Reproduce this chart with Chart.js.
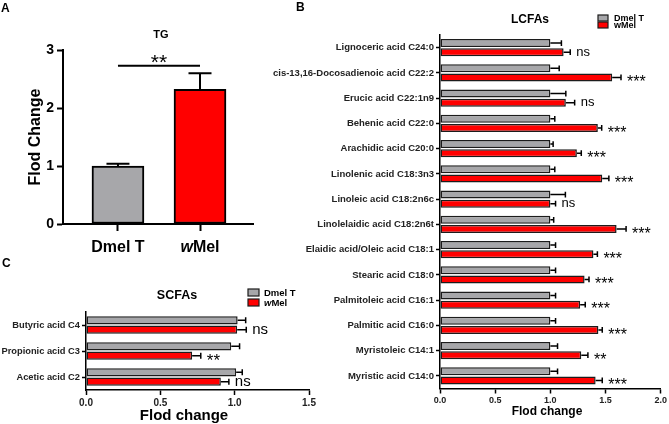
<!DOCTYPE html>
<html lang="es">
<head>
<meta charset="utf-8">
<title>TG / LCFAs / SCFAs</title>
<script src="https://cdn.jsdelivr.net/npm/chart.js@4.4.1/dist/chart.umd.min.js"></script>
<style>
  body { margin: 0; background: #fff; }
  #lienzo { position: relative; width: 669px; height: 424px; overflow: hidden; font-family: "Liberation Sans", Arial, sans-serif; }
  .panel { position: absolute; }
  .letra { position: absolute; font-weight: bold; font-size: 12px; line-height: 12px; color: #000; }
</style>
</head>
<body>
<div id="lienzo">
  <div class="panel" style="left:0;top:0;width:265px;height:262px"><canvas id="graficaTG"></canvas></div>
  <div class="panel" style="left:262px;top:0;width:407px;height:424px"><canvas id="graficaLCFA"></canvas></div>
  <div class="panel" style="left:0;top:275px;width:330px;height:149px"><canvas id="graficaSCFA"></canvas></div>
  <div class="letra" style="left:1px;top:2px">A</div>
  <div class="letra" style="left:296px;top:1px">B</div>
  <div class="letra" style="left:2px;top:257px">C</div>
</div>
<script>
const FUENTE = '"Liberation Sans", Arial, sans-serif';
const GRIS = '#a7a7aa';
const ROJO = '#ff0000';
const TRAZO = '#1c1c1c';

// Panel A: TG
const gruposTG = ['Dmel T', 'wMel'];
const mediaTG = [1.0, 2.32];
const errorTG = [0.04, 0.28];
const ticksTG = [0, 1, 2, 3];
const sigTG = '**';
const alturaSigTG = 2.73;

// Panel B: LCFAs
const acidosLCFA = [
  'Lignoceric acid C24:0',
  'cis-13,16-Docosadienoic acid C22:2',
  'Erucic acid C22:1n9',
  'Behenic acid C22:0',
  'Arachidic acid C20:0',
  'Linolenic acid C18:3n3',
  'Linoleic acid C18:2n6c',
  'Linolelaidic acid C18:2n6t',
  'Elaidic acid/Oleic acid C18:1',
  'Stearic acid C18:0',
  'Palmitoleic acid C16:1',
  'Palmitic acid C16:0',
  'Myristoleic C14:1',
  'Myristic acid C14:0'
];
const dmelLCFA = [1, 1, 1, 1, 1, 1, 1, 1, 1, 1, 1, 1, 1, 1];
const dmelErrLCFA = [0.10, 0.08, 0.14, 0.04, 0.025, 0.04, 0.136, 0.03, 0.047, 0.047, 0.047, 0.047, 0.065, 0.065];
const wmelLCFA = [1.12, 1.56, 1.14, 1.43, 1.24, 1.47, 1.00, 1.60, 1.39, 1.31, 1.27, 1.435, 1.28, 1.41];
const wmelErrLCFA = [0.06, 0.08, 0.08, 0.035, 0.04, 0.06, 0.047, 0.086, 0.036, 0.04, 0.046, 0.035, 0.06, 0.06];
const sigLCFA = ['ns', '***', 'ns', '***', '***', '***', 'ns', '***', '***', '***', '***', '***', '**', '***'];
const ticksLCFA = [0, 0.5, 1, 1.5, 2];

// Panel C: SCFAs
const acidosSCFA = ['Butyric acid C4', 'Propionic acid C3', 'Acetic acid C2'];
const dmelSCFA = [1.02, 0.977, 1.01];
const dmelErrSCFA = [0.054, 0.056, 0.041];
const wmelSCFA = [1.017, 0.714, 0.907];
const wmelErrSCFA = [0.061, 0.058, 0.054];
const sigSCFA = ['ns', '**', 'ns'];
const ticksSCFA = [0, 0.5, 1, 1.5];

Chart.defaults.font.family = FUENTE;
Chart.defaults.color = '#000';

// texto con la "w" de wMel en cursiva
function textoW(ctx, texto, x, y, tam, alinear, cursiva) {
  const negrita = `bold ${tam}px ${FUENTE}`;
  ctx.textAlign = 'left';
  if (cursiva && texto.startsWith('w')) {
    ctx.font = `italic bold ${tam}px ${FUENTE}`;
    const a = ctx.measureText('w').width;
    ctx.font = negrita;
    const b = ctx.measureText(texto.slice(1)).width;
    const x0 = alinear === 'center' ? x - (a + b) / 2 : x;
    ctx.font = `italic bold ${tam}px ${FUENTE}`;
    ctx.fillText('w', x0, y);
    ctx.font = negrita;
    ctx.fillText(texto.slice(1), x0 + a, y);
  } else {
    ctx.font = negrita;
    const w = ctx.measureText(texto).width;
    ctx.fillText(texto, alinear === 'center' ? x - w / 2 : x, y);
  }
}

// ns / * centrados en la barra
function estrellas(ctx, txt, x, cy, tam) {
  const ast = txt.includes('*');
  const t = ast ? tam.ast : tam.ns;
  ctx.font = `${t}px ${FUENTE}`;
  ctx.textAlign = 'left';
  ctx.textBaseline = 'alphabetic';
  ctx.fillStyle = '#000';
  ctx.fillText(txt, x, cy + (ast ? 0.6 : 0.27) * t);
}

const extras = {
  id: 'extras',
  afterDatasetsDraw(chart, args, op) {
    const ctx = chart.ctx;
    const horiz = chart.options.indexAxis === 'y';
    const escVal = horiz ? chart.scales.x : chart.scales.y;
    ctx.save();
    ctx.strokeStyle = '#000';
    ctx.lineWidth = op.grosor;
    chart.data.datasets.forEach((ds, d) => {
      chart.getDatasetMeta(d).data.forEach((barra, i) => {
        const valor = horiz ? ds.data[i] : ds.data[i].y;
        const fin = escVal.getPixelForValue(valor + ds.errores[i]);
        ctx.beginPath();
        if (horiz) {
          const c = barra.height * 0.36;
          ctx.moveTo(barra.x, barra.y); ctx.lineTo(fin, barra.y);
          ctx.moveTo(fin, barra.y - c); ctx.lineTo(fin, barra.y + c);
        } else {
          const c = op.tapa / 2;
          ctx.moveTo(barra.x, barra.y); ctx.lineTo(barra.x, fin);
          ctx.moveTo(barra.x - c, fin); ctx.lineTo(barra.x + c, fin);
        }
        ctx.stroke();
        if (ds.sig) estrellas(ctx, ds.sig[i], fin + 6, barra.y, op.tamSig);
      });
    });
    ctx.restore();
  },
  afterDraw(chart, args, op) {
    const ctx = chart.ctx;
    ctx.save();
    ctx.fillStyle = '#000';
    ctx.textBaseline = 'middle';
    // titulo del panel
    if (op.titulo) textoW(ctx, op.titulo.texto, op.titulo.x, op.titulo.y, op.titulo.tam, 'center', false);
    // titulo del eje de valores
    if (op.tituloEje) textoW(ctx, op.tituloEje.texto, op.tituloEje.x, op.tituloEje.y, op.tituloEje.tam, 'center', false);
    // leyenda
    if (op.leyenda) {
      const ley = op.leyenda;
      chart.data.datasets.forEach((ds, k) => {
        const y = ley.y + k * ley.paso;
        ctx.fillStyle = ds.backgroundColor;
        ctx.fillRect(ley.x, y, ley.caja[0], ley.caja[1]);
        ctx.strokeStyle = TRAZO;
        ctx.lineWidth = 1.2;
        ctx.strokeRect(ley.x, y, ley.caja[0], ley.caja[1]);
        ctx.fillStyle = '#000';
        textoW(ctx, ds.label, ley.x + ley.caja[0] + ley.sep, y + ley.caja[1] / 2 + 0.5, ley.tam, 'left', ley.cursiva);
      });
    }
    // etiquetas de categoria (panel A) y barra de significancia
    if (op.etiquetasX) {
      const ex = chart.scales.x;
      op.etiquetasX.forEach((g, i) => {
        textoW(ctx, g, ex.getPixelForValue(i), op.yEtiquetas, op.tamEtiquetas, 'center', true);
      });
    }
    if (op.puente) {
      const ex = chart.scales.x, ey = chart.scales.y;
      const y = ey.getPixelForValue(op.puente.nivel);
      const x0 = ex.getPixelForValue(0), x1 = ex.getPixelForValue(1);
      ctx.strokeStyle = '#000';
      ctx.lineWidth = 2;
      ctx.beginPath(); ctx.moveTo(x0, y); ctx.lineTo(x1, y); ctx.stroke();
      ctx.font = `${op.puente.tam}px ${FUENTE}`;
      ctx.textAlign = 'center';
      ctx.textBaseline = 'alphabetic';
      ctx.fillText(op.puente.texto, (x0 + x1) / 2, y + 3);
    }
    ctx.restore();
  }
};

// Panel A
new Chart(document.getElementById('graficaTG'), {
  type: 'bar',
  data: {
    datasets: [{
      label: 'TG',
      data: mediaTG.map((v, i) => ({ x: i, y: v })),
      errores: errorTG,
      backgroundColor: [GRIS, ROJO],
      borderColor: '#000',
      borderWidth: 2,
      borderSkipped: false,
      barThickness: 52
    }]
  },
  options: {
    responsive: true, maintainAspectRatio: false, animation: false, devicePixelRatio: 1,
    layout: { padding: { top: 50, right: 12, left: 0, bottom: 0 } },
    scales: {
      x: {
        type: 'linear', min: -0.67, max: 1.646, offset: false,
        afterBuildTicks: s => { s.ticks = gruposTG.map((g, i) => ({ value: i })); },
        afterFit: s => { s.height = 38; },
        ticks: { display: false },
        grid: { offset: false, drawOnChartArea: false, tickLength: 7, tickWidth: 2, tickColor: '#000' },
        border: { color: '#000', width: 2 }
      },
      y: {
        min: 0, max: 3,
        afterBuildTicks: s => { s.ticks = ticksTG.map(v => ({ value: v })); },
        afterFit: s => { s.width = 63; },
        ticks: { font: { size: 14, weight: 'bold' }, color: '#000', padding: 3 },
        grid: { drawOnChartArea: false, tickLength: 6, tickWidth: 2, tickColor: '#000' },
        border: { color: '#000', width: 2 },
        title: { display: true, text: 'Flod Change', font: { size: 16, weight: 'bold' }, color: '#000', padding: { top: 26 } }
      }
    },
    plugins: {
      legend: { display: false },
      tooltip: { enabled: false },
      extras: {
        grosor: 2, tapa: 23,
        titulo: { texto: 'TG', x: 161, y: 35, tam: 11 },
        etiquetasX: gruposTG, yEtiquetas: 248, tamEtiquetas: 16,
        puente: { nivel: alturaSigTG, texto: sigTG, tam: 21 }
      }
    }
  },
  plugins: [extras]
});

// opciones comunes de las barras horizontales
function barrasH(etiqueta, datos, errores, color, sig) {
  return {
    label: etiqueta, data: datos, errores: errores, sig: sig,
    backgroundColor: color, borderColor: TRAZO, borderWidth: 1.5, borderSkipped: false,
    categoryPercentage: 0.72, barPercentage: 0.88
  };
}

function ejesH(ticks, maximo, anchoY, altoX, tamY, tamX) {
  return {
    x: {
      min: 0, max: maximo,
      afterBuildTicks: s => { s.ticks = ticks.map(v => ({ value: v })); },
      afterFit: s => { s.height = altoX; },
      ticks: { font: { size: tamX, weight: 'bold' }, color: '#222', padding: 2, callback: v => v.toFixed(1) },
      grid: { drawOnChartArea: false, tickLength: 5, tickWidth: 1.5, tickColor: '#000' },
      border: { color: '#000', width: 1.5 }
    },
    y: {
      afterFit: s => { s.width = anchoY; },
      ticks: { font: { size: tamY, weight: 'bold' }, color: '#222', padding: 2, autoSkip: false },
      grid: { offset: false, drawOnChartArea: false, tickLength: 4, tickWidth: 1.5, tickColor: '#000' },
      border: { color: '#000', width: 1.5 }
    }
  };
}

// Panel B
new Chart(document.getElementById('graficaLCFA'), {
  type: 'bar',
  data: {
    labels: acidosLCFA,
    datasets: [
      barrasH('Dmel T', dmelLCFA, dmelErrLCFA, GRIS),
      barrasH('wMel', wmelLCFA, wmelErrLCFA, ROJO, sigLCFA)
    ]
  },
  options: {
    indexAxis: 'y',
    responsive: true, maintainAspectRatio: false, animation: false, devicePixelRatio: 1,
    layout: { padding: { top: 35, right: 6, left: 0, bottom: 0 } },
    scales: ejesH(ticksLCFA, 2, 178, 35.5, 9.5, 9),
    plugins: {
      legend: { display: false },
      tooltip: { enabled: false },
      extras: {
        grosor: 1.5, tamSig: { ast: 16, ns: 13 },
        titulo: { texto: 'LCFAs', x: 268, y: 20, tam: 12 },
        tituloEje: { texto: 'Flod change', x: 285, y: 412, tam: 12 },
        leyenda: { x: 336, y: 15, caja: [10, 6], paso: 7, sep: 6, tam: 9, cursiva: false }
      }
    }
  },
  plugins: [extras]
});

// Panel C
new Chart(document.getElementById('graficaSCFA'), {
  type: 'bar',
  data: {
    labels: acidosSCFA,
    datasets: [
      barrasH('Dmel T', dmelSCFA, dmelErrSCFA, GRIS),
      barrasH('wMel', wmelSCFA, wmelErrSCFA, ROJO, sigSCFA)
    ]
  },
  options: {
    indexAxis: 'y',
    responsive: true, maintainAspectRatio: false, animation: false, devicePixelRatio: 1,
    layout: { padding: { top: 37, right: 21, left: 0, bottom: 0 } },
    scales: ejesH(ticksSCFA, 1.5, 86, 34, 9.3, 10),
    plugins: {
      legend: { display: false },
      tooltip: { enabled: false },
      extras: {
        grosor: 1.5, tamSig: { ast: 17, ns: 15 },
        titulo: { texto: 'SCFAs', x: 177, y: 21, tam: 12.5 },
        tituloEje: { texto: 'Flod change', x: 184, y: 141, tam: 15 },
        leyenda: { x: 248, y: 14, caja: [11, 7], paso: 10, sep: 5, tam: 9.5, cursiva: true }
      }
    }
  },
  plugins: [extras]
});
</script>
</body>
</html>
